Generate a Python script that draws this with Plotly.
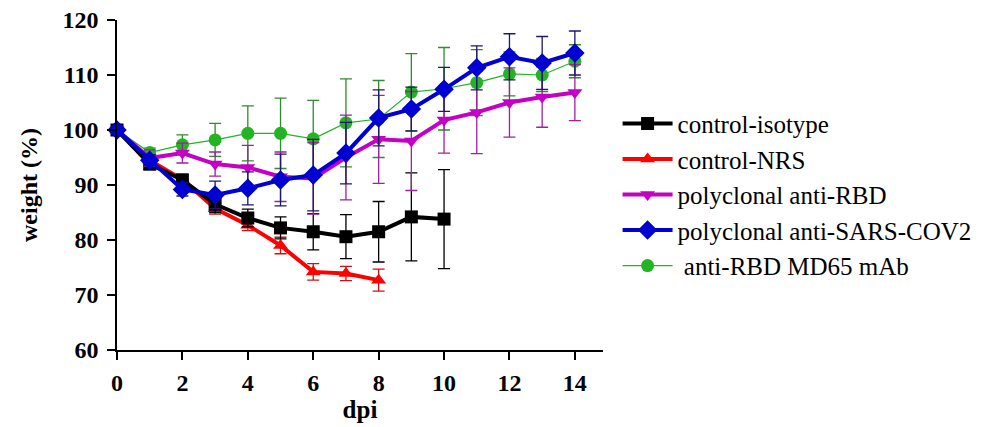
import plotly.graph_objects as go

days = list(range(15))

names = ["control-isotype", "control-NRS", "polyclonal anti-RBD",
         "polyclonal anti-SARS-COV2", " anti-RBD MD65 mAb"]

isotype = [100, 93.8, 90.9, 86.5, 84.0, 82.2, 81.5, 80.6, 81.5, 84.2, 83.8]
isotype_err = [0.5, 1.0, 1.0, 1.5, 1.6, 2.0, 3.3, 4.0, 5.5, 8.0, 9.0]

nrs = [100, 94.5, 91.0, 85.7, 82.7, 79.0, 74.2, 73.9, 72.7]
nrs_err = [0.5, 1.0, 1.0, 1.0, 1.0, 1.5, 1.5, 1.3, 2.0]

anti_rbd = [100, 94.9, 95.8, 93.8, 93.2, 91.5, 91.2, 95.0, 98.3, 98.0, 101.8, 103.2, 105.0, 106.0, 106.8]
anti_rbd_err = [0.5, 1.5, 1.8, 2.2, 4.0, 4.5, 6.5, 7.7, 8.0, 9.0, 6.0, 7.5, 6.3, 5.5, 5.1]

anti_sars = [100, 94.5, 89.2, 88.2, 89.4, 90.9, 91.8, 95.8, 102.2, 103.8, 107.4, 111.3, 113.3, 112.2, 114.0]
anti_sars_err = [0.5, 1.0, 1.2, 2.5, 3.0, 4.7, 6.5, 5.6, 5.1, 4.0, 4.0, 4.0, 4.2, 4.8, 4.0]

md65 = [100, 95.9, 97.3, 98.2, 99.4, 99.4, 98.4, 101.3, 102.0, 106.9, 107.5, 108.6, 110.2, 110.0, 112.5]
md65_err = [0.5, 0.8, 1.8, 3.0, 5.0, 6.4, 7.0, 8.0, 7.0, 7.0, 7.5, 6.0, 4.0, 3.0, 3.0]

x_ticks = [0, 2, 4, 6, 8, 10, 12, 14]
y_ticks = [60, 70, 80, 90, 100, 110, 120]

SERIF = "Liberation Serif, serif"

fig = go.Figure()

specs = [
    # (name, y, err, color, errcolor, symbol, size, linewidth, rank)
    (names[1], nrs, nrs_err, "#ff0000", "#d01010", "triangle-up", 13, 4, 2),
    (names[0], isotype, isotype_err, "#000000", "#000000", "square", 13, 4, 1),
    (names[4], md65, md65_err, "#22b422", "#2e8b2e", "circle", 13, 1.2, 5),
    (names[2], anti_rbd, anti_rbd_err, "#c400c4", "#a020a0", "triangle-down", 13, 4, 3),
    (names[3], anti_sars, anti_sars_err, "#0000d0", "#1a1a6a", "diamond", 15, 4, 4),
]

for name, y, err, col, ecol, sym, size, lw, rank in specs:
    fig.add_trace(go.Scatter(
        x=days[:len(y)], y=y, name=name, mode="lines+markers",
        line=dict(color=col, width=lw),
        marker=dict(symbol=sym, size=size, color=col, line=dict(width=0)),
        error_y=dict(type="data", array=err, visible=True, color=ecol,
                     thickness=1.3, width=6),
        cliponaxis=False, legendrank=rank,
    ))

fig.update_layout(
    width=1008, height=427,
    margin=dict(l=117, r=405, t=20, b=77),
    paper_bgcolor="white", plot_bgcolor="white",
    font=dict(family=SERIF, color="black", size=19),
    showlegend=True,
    legend=dict(x=1.03, y=0.755, xanchor="left", yanchor="top",
                font=dict(family=SERIF, size=25, color="black"),
                traceorder="normal", itemwidth=50,
                bgcolor="rgba(0,0,0,0)"),
    xaxis=dict(range=[0, 14.86], tickvals=x_ticks, ticktext=[str(v) for v in x_ticks],
               showline=True, linecolor="black", linewidth=1.5, ticks="outside",
               ticklen=8, tickwidth=1.5, tickcolor="black", showgrid=False,
               zeroline=False, ticklabelstandoff=2, automargin=False,
               tickfont=dict(family=SERIF, size=24, weight="bold"),
               title=dict(text="<b>dpi</b>", font=dict(family=SERIF, size=25), standoff=4)),
    yaxis=dict(range=[60, 120], tickvals=y_ticks, ticktext=[str(v) for v in y_ticks],
               showline=True, linecolor="black", linewidth=1.5, ticks="outside",
               ticklen=8, tickwidth=1.5, tickcolor="black", showgrid=False,
               zeroline=False, ticklabelstandoff=4, automargin=False,
               tickfont=dict(family=SERIF, size=24, weight="bold"),
               title=dict(text="<b>weight (%)</b>", font=dict(family=SERIF, size=24), standoff=18)),
)

fig.write_html("out.html")
